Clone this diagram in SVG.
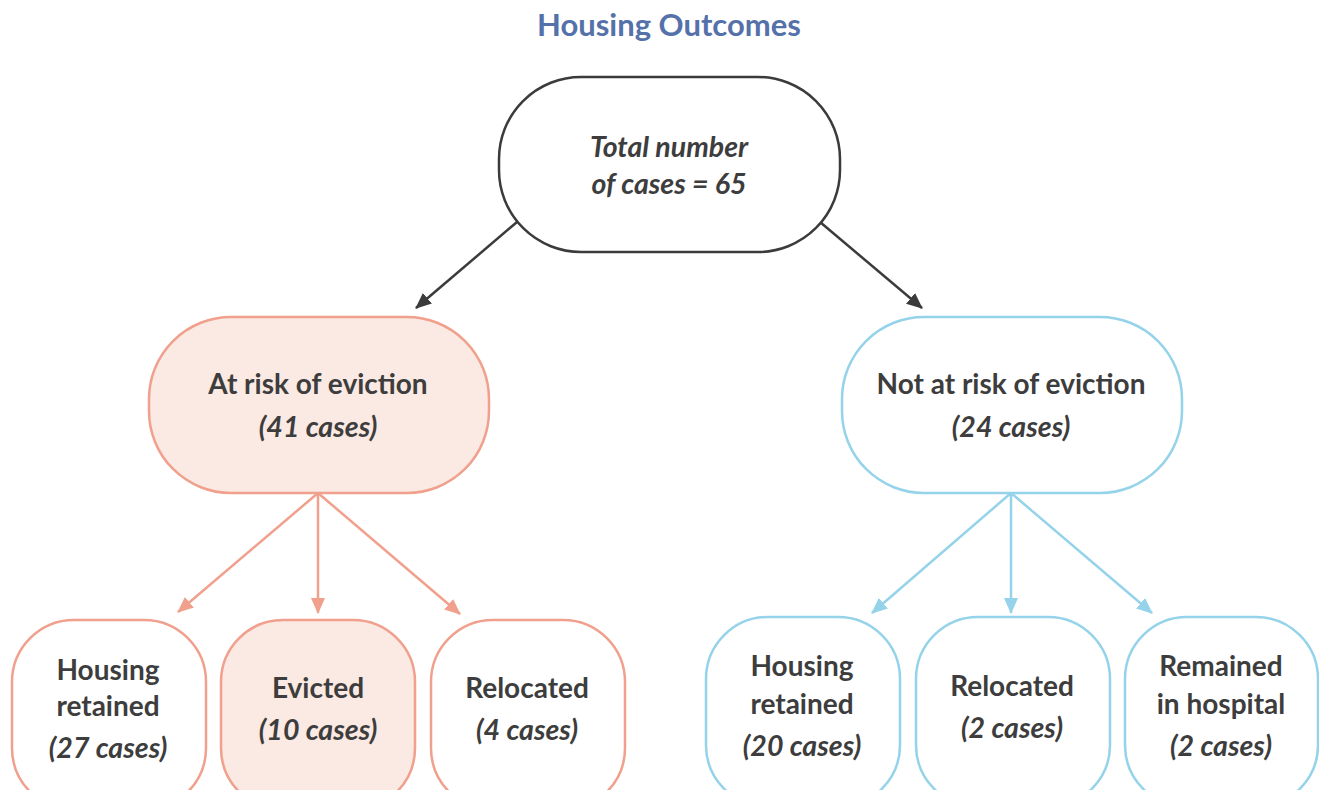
<svg xmlns="http://www.w3.org/2000/svg" width="1319" height="790" viewBox="0 0 1319 790">
  <defs>
    <marker id="ah-dark" viewBox="0 0 16 14" refX="15" refY="7" markerWidth="16" markerHeight="14" markerUnits="userSpaceOnUse" orient="auto">
      <path d="M0,0 L16,7 L0,14 Z" fill="#3b3b3b"/>
    </marker>
    <marker id="ah-red" viewBox="0 0 16 14" refX="15" refY="7" markerWidth="16" markerHeight="14" markerUnits="userSpaceOnUse" orient="auto">
      <path d="M0,0 L16,7 L0,14 Z" fill="#f0a08c"/>
    </marker>
    <marker id="ah-blue" viewBox="0 0 16 14" refX="15" refY="7" markerWidth="16" markerHeight="14" markerUnits="userSpaceOnUse" orient="auto">
      <path d="M0,0 L16,7 L0,14 Z" fill="#95d3ea"/>
    </marker>
  </defs>
  <style>
    text { font-family: Lato, "Open Sans", "Liberation Sans", sans-serif; fill: #3d3d3d; text-anchor: middle; font-size: 28px; font-weight: bold; }
    .title { fill: #5571a9; font-size: 31px; }
    .it { font-style: italic; font-size: 28.5px; }
    .root { fill: #ffffff; stroke: #3b3b3b; stroke-width: 2.5; }
    .red { stroke: #f0a08c; stroke-width: 2.5; }
    .blue { stroke: #95d3ea; stroke-width: 2.5; }
    .pink { fill: #fbe9e3; }
    .white { fill: #ffffff; }
    .c-dark { stroke: #3b3b3b; stroke-width: 2.5; fill: none; marker-end: url(#ah-dark); }
    .c-red { stroke: #f0a08c; stroke-width: 2.5; fill: none; marker-end: url(#ah-red); }
    .c-blue { stroke: #95d3ea; stroke-width: 2.5; fill: none; marker-end: url(#ah-blue); }
  </style>

  <rect width="1319" height="790" fill="#ffffff"/>

  <text class="title" x="669" y="36">Housing Outcomes</text>

  <g id="connectors">
    <line class="c-dark" x1="517" y1="222" x2="416" y2="308"/>
    <line class="c-dark" x1="820" y1="222" x2="922" y2="308"/>
    <line class="c-red" x1="318" y1="493" x2="178" y2="612"/>
    <line class="c-red" x1="318" y1="493" x2="318" y2="613"/>
    <line class="c-red" x1="318" y1="493" x2="460" y2="614"/>
    <line class="c-blue" x1="1011" y1="493" x2="872" y2="613"/>
    <line class="c-blue" x1="1011" y1="493" x2="1011" y2="613"/>
    <line class="c-blue" x1="1011" y1="493" x2="1152" y2="613"/>
  </g>

  <g id="total">
    <rect class="root" x="499" y="77" width="341" height="175" rx="82"/>
    <text class="it" x="669" y="157">Total number</text>
    <text class="it" x="669" y="194">of cases = 65</text>
  </g>

  <g id="at-risk">
    <rect class="red pink" x="149" y="317" width="340" height="176" rx="82"/>
    <text x="318" y="394">At risk of eviction</text>
    <text class="it" x="318" y="437">(41 cases)</text>
  </g>

  <g id="not-at-risk">
    <rect class="blue white" x="842" y="317" width="340" height="176" rx="82"/>
    <text x="1011" y="394">Not at risk of eviction</text>
    <text class="it" x="1011" y="437">(24 cases)</text>
  </g>

  <g id="risk-retained">
    <rect class="red white" x="12" y="620" width="194" height="190" rx="62"/>
    <text x="108" y="680">Housing</text>
    <text x="108" y="716">retained</text>
    <text class="it" x="108" y="758">(27 cases)</text>
  </g>

  <g id="risk-evicted">
    <rect class="red pink" x="221" y="620" width="194" height="190" rx="62"/>
    <text x="318" y="698">Evicted</text>
    <text class="it" x="318" y="740">(10 cases)</text>
  </g>

  <g id="risk-relocated">
    <rect class="red white" x="431" y="620" width="194" height="190" rx="62"/>
    <text x="527" y="698">Relocated</text>
    <text class="it" x="527" y="740">(4 cases)</text>
  </g>

  <g id="norisk-retained">
    <rect class="blue white" x="706" y="617" width="194" height="190" rx="62"/>
    <text x="802" y="676">Housing</text>
    <text x="802" y="714">retained</text>
    <text class="it" x="802" y="756">(20 cases)</text>
  </g>

  <g id="norisk-relocated">
    <rect class="blue white" x="916" y="617" width="194" height="190" rx="62"/>
    <text x="1012" y="696">Relocated</text>
    <text class="it" x="1012" y="738">(2 cases)</text>
  </g>

  <g id="norisk-hospital">
    <rect class="blue white" x="1125" y="617" width="193" height="190" rx="62"/>
    <text x="1221" y="676">Remained</text>
    <text x="1221" y="714">in hospital</text>
    <text class="it" x="1221" y="756">(2 cases)</text>
  </g>
</svg>
